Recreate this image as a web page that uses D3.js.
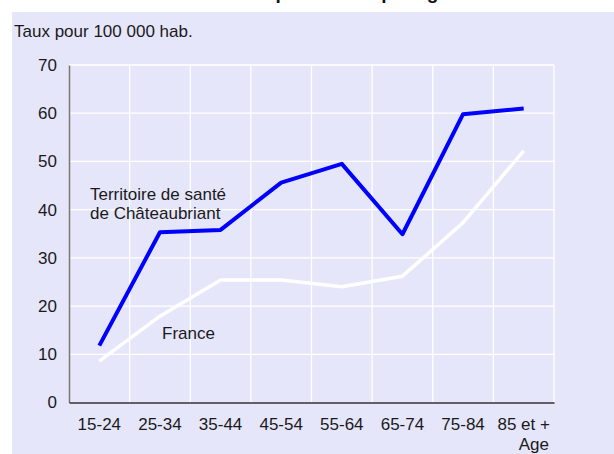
<!DOCTYPE html>
<html>
<head>
<meta charset="utf-8">
<script src="https://cdn.jsdelivr.net/npm/d3@7"></script>
<style>
  html, body { margin: 0; padding: 0; background: #ffffff; }
  svg { display: block; font-family: "Liberation Sans", Arial, sans-serif; }
</style>
</head>
<body>
<svg id="chart" width="614" height="454"></svg>
<script>
const ageGroups = ["15-24", "25-34", "35-44", "45-54", "55-64", "65-74", "75-84", "85 et +"];
const territoireValues = [11.8, 35.3, 35.8, 45.6, 49.5, 34.9, 59.8, 61.0];
const franceValues = [8.6, 17.9, 25.4, 25.4, 24.0, 26.2, 37.3, 52.2];
const yTicks = [0, 10, 20, 30, 40, 50, 60, 70];
const titleText = "Mortalité par suicide par âge";
const unitLabel = "Taux pour 100 000 hab.";
const xAxisTitle = "Age";
const seriesLabels = ["Territoire de santé", "de Châteaubriant", "France"];

const svg = d3.select("#chart");
const W = 614, H = 454;
const fs = 17;
const ff = "'Liberation Sans', Arial, sans-serif";

// panel background
svg.append("rect").attr("x", 12).attr("y", 12).attr("width", W - 12).attr("height", H - 12).attr("fill", "#e6e6fa");

// title (clipped at top, as in the reference)
svg.append("text").attr("x", 320).attr("y", -1).attr("text-anchor", "middle")
  .attr("font-weight", "bold").attr("font-size", 19).attr("fill", "#111").style("font-family", ff).text(titleText);

const x = d3.scaleBand().domain(ageGroups).range([69, 554]).paddingInner(0).paddingOuter(0);
const y = d3.scaleLinear().domain([0, 70]).range([402.5, 65]);
const bw = x.bandwidth();
const cx = d => x(d) + bw / 2;

// grid
const grid = svg.append("g");
grid.selectAll("line.h").data(yTicks.filter(v => v > 0)).join("line")
  .attr("x1", 69).attr("x2", 554).attr("y1", d => y(d)).attr("y2", d => y(d))
  .attr("stroke", "#ffffff").attr("stroke-width", 1.3);
grid.selectAll("line.v").data(ageGroups).join("line")
  .attr("x1", d => x(d) + bw).attr("x2", d => x(d) + bw)
  .attr("y1", y(70)).attr("y2", y(0))
  .attr("stroke", "#ffffff").attr("stroke-width", 1.3);

// axes
const yAxis = svg.append("g").attr("transform", "translate(69,0)")
  .call(d3.axisLeft(y).tickValues(yTicks).tickSize(0).tickPadding(12).tickFormat(d3.format("d")));
yAxis.select(".domain").attr("stroke", "#777").attr("stroke-width", 1.5);
yAxis.selectAll("text").attr("font-size", fs).attr("fill", "#1a1a1a").style("font-family", ff);

const xAxis = svg.append("g").attr("transform", `translate(0,${y(0)})`)
  .call(d3.axisBottom(x).tickSize(0).tickPadding(15));
xAxis.select(".domain").attr("stroke", "#333").attr("stroke-width", 1.5);
xAxis.selectAll("text").attr("font-size", fs).attr("fill", "#1a1a1a").style("font-family", ff);

svg.append("text").attr("x", 549).attr("y", 450).attr("text-anchor", "end")
  .attr("font-size", fs).attr("fill", "#1a1a1a").style("font-family", ff).text(xAxisTitle);

svg.append("text").attr("x", 14).attr("y", 37)
  .attr("font-size", fs).attr("fill", "#1a1a1a").style("font-family", ff).text(unitLabel);

// lines
const line = d3.line().x((v, i) => cx(ageGroups[i])).y(v => y(v));
svg.append("path").datum(franceValues).attr("d", line)
  .attr("fill", "none").attr("stroke", "#ffffff").attr("stroke-width", 3.5).attr("stroke-linejoin", "round");
svg.append("path").datum(territoireValues).attr("d", line)
  .attr("fill", "none").attr("stroke", "#0000ff").attr("stroke-width", 4).attr("stroke-linejoin", "round");

// series labels
svg.append("text").attr("x", 90).attr("y", y(42)).attr("font-size", fs).attr("fill", "#1a1a1a").style("font-family", ff).text(seriesLabels[0]);
svg.append("text").attr("x", 90).attr("y", y(38)).attr("font-size", fs).attr("fill", "#1a1a1a").style("font-family", ff).text(seriesLabels[1]);
svg.append("text").attr("x", 162).attr("y", y(13.2)).attr("font-size", fs).attr("fill", "#1a1a1a").style("font-family", ff).text(seriesLabels[2]);
</script>
</body>
</html>
